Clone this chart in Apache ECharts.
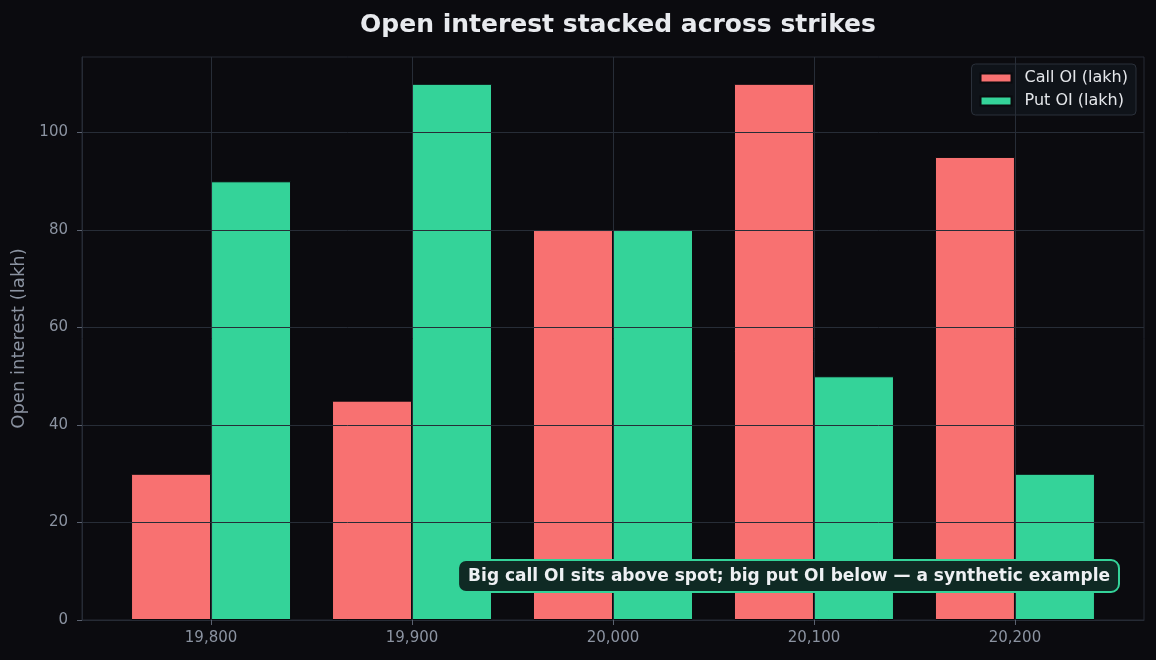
<!DOCTYPE html>
<html>
<head>
<meta charset="utf-8">
<script src="https://cdn.jsdelivr.net/npm/echarts@6/dist/echarts.min.js"></script>
<style>
  html, body { margin: 0; padding: 0; background: #0b0b0f; }
  #chart { width: 1156px; height: 660px; }
</style>
</head>
<body>
<div id="chart"></div>
<script>
const strikes = [19800, 19900, 20000, 20100, 20200]
const callOI = [30, 45, 80, 110, 95]
const putOI = [90, 110, 80, 50, 30]
const yTicks = [20, 40, 60, 80, 100]

const chart = echarts.init(document.getElementById('chart'))

// grid lines drawn above the bars, like the original
const gridLines = []
yTicks.forEach(v => gridLines.push({ yAxis: v }))
strikes.forEach(s => gridLines.push({ xAxis: s }))

const option = {
  backgroundColor: '#0b0b0f',
  animation: false,
  textStyle: { fontFamily: 'DejaVu Sans' },
  title: {
    text: 'Open interest stacked across strikes',
    left: 613,
    top: 8,
    textAlign: 'center',
    textStyle: { color: '#e8eaee', fontSize: 25, fontWeight: 'bold', fontFamily: 'DejaVu Sans' }
  },
  legend: {
    data: ['Call OI (lakh)', 'Put OI (lakh)'],
    orient: 'vertical',
    right: 20,
    top: 64,
    itemWidth: 31,
    itemHeight: 9,
    itemGap: 7,
    padding: [6, 8, 6, 8],
    backgroundColor: '#0f1319',
    borderColor: '#2a303a',
    borderWidth: 1,
    borderRadius: 4,
    icon: 'rect',
    textStyle: { color: '#e5e7eb', fontSize: 16, padding: [0, 0, 0, 8] }
  },
  grid: {
    left: 82, right: 12, top: 57, bottom: 40,
    show: true, borderColor: '#262b35', borderWidth: 1, backgroundColor: 'transparent'
  },
  xAxis: {
    type: 'value',
    min: 19735.8,
    max: 20264.2,
    minInterval: 100,
    maxInterval: 100,
    axisLine: { show: true, lineStyle: { color: '#262b35' } },
    axisTick: { show: true, length: 5, lineStyle: { color: '#5b6270' } },
    splitLine: { show: false },
    axisLabel: {
      color: '#8b93a1', fontSize: 15, margin: 11,
      showMinLabel: false, showMaxLabel: false,
      formatter: v => (v % 100 === 0 ? v.toLocaleString('en-US') : '')
    }
  },
  yAxis: {
    type: 'value',
    min: 0,
    max: 115.5,
    interval: 20,
    name: 'Open interest (lakh)',
    nameLocation: 'middle',
    nameGap: 54,
    nameTextStyle: { color: '#8b93a1', fontSize: 18 },
    axisLine: { show: true, lineStyle: { color: '#262b35' } },
    axisTick: { show: true, length: 5, lineStyle: { color: '#5b6270' } },
    splitLine: { show: false },
    axisLabel: { color: '#8b93a1', fontSize: 15, margin: 14, showMaxLabel: false }
  },
  series: [
    {
      name: 'Call OI (lakh)',
      type: 'bar',
      barWidth: 80,
      barGap: 0,
      itemStyle: { color: '#f87171', borderColor: '#0b0b0f', borderWidth: 1 },
      data: strikes.map((s, i) => [s, callOI[i]])
    },
    {
      name: 'Put OI (lakh)',
      type: 'bar',
      barWidth: 80,
      barGap: 0,
      itemStyle: { color: '#34d399', borderColor: '#0b0b0f', borderWidth: 1 },
      data: strikes.map((s, i) => [s, putOI[i]])
    },
    {
      name: 'grid',
      type: 'line',
      data: [],
      z: 10,
      silent: true,
      markLine: {
        silent: true,
        symbol: 'none',
        label: { show: false },
        lineStyle: { color: '#272d37', width: 1, type: 'solid', opacity: 1 },
        data: gridLines
      }
    }
  ],
  graphic: [
    {
      type: 'text',
      right: 36,
      top: 559,
      z: 100,
      style: {
        text: 'Big call OI sits above spot; big put OI below — a synthetic example',
        fill: '#eef0f3',
        font: 'bold 17px "DejaVu Sans"',
        backgroundColor: '#0f2a24',
        borderColor: '#34d399',
        borderWidth: 2,
        borderRadius: 7,
        padding: [7, 8, 6, 9]
      }
    }
  ]
}

chart.setOption(option)
</script>
</body>
</html>
